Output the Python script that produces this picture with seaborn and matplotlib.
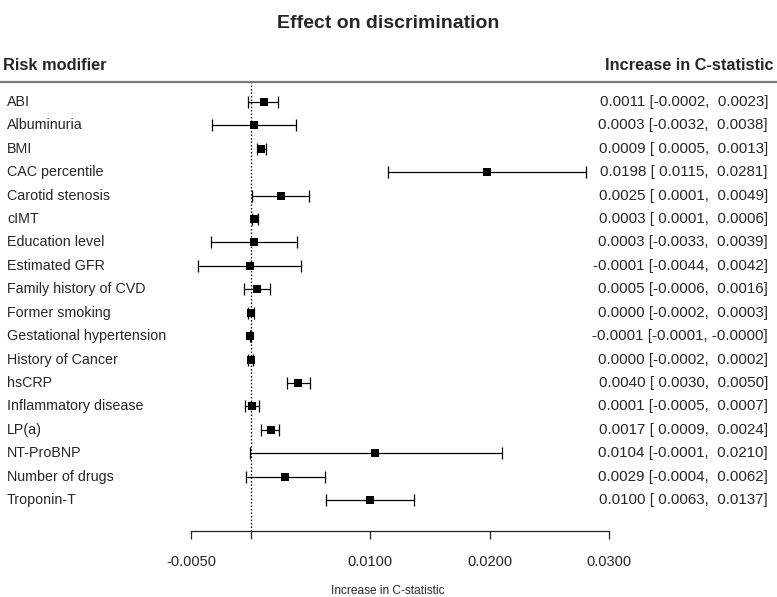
import numpy as np
import matplotlib
matplotlib.use("Agg")
import matplotlib.pyplot as plt
import matplotlib.transforms as mtransforms
from matplotlib.lines import Line2D
import seaborn as sns


modifiers = [
    "ABI", "Albuminuria", "BMI", "CAC percentile", "Carotid stenosis", "cIMT",
    "Education level", "Estimated GFR", "Family history of CVD", "Former smoking",
    "Gestational hypertension", "History of Cancer", "hsCRP", "Inflammatory disease",
    "LP(a)", "NT-ProBNP", "Number of drugs", "Troponin-T",
]
estimate = [0.0011, 0.0003, 0.0009, 0.0198, 0.0025, 0.0003, 0.0003, -0.0001, 0.0005,
            0.0000, -0.0001, 0.0000, 0.0040, 0.0001, 0.0017, 0.0104, 0.0029, 0.0100]
lower = [-0.0002, -0.0032, 0.0005, 0.0115, 0.0001, 0.0001, -0.0033, -0.0044, -0.0006,
         -0.0002, -0.0001, -0.0002, 0.0030, -0.0005, 0.0009, -0.0001, -0.0004, 0.0063]
upper = [0.0023, 0.0038, 0.0013, 0.0281, 0.0049, 0.0006, 0.0039, 0.0042, 0.0016,
         0.0003, -0.0000, 0.0002, 0.0050, 0.0007, 0.0024, 0.0210, 0.0062, 0.0137]
tick_values = [-0.005, 0.0, 0.01, 0.02, 0.03]
tick_labels = ["-0.0050", "", "0.0100", "0.0200", "0.0300"]

sns.set_style("white")
plt.rcParams["font.family"] = ["Liberation Sans", "DejaVu Sans"]

W, H = 777, 597
fig = plt.figure(figsize=(W / 100, H / 100), dpi=100)

# axes placed in pixel terms: x from -0.005 to 0.03, top at header line, bottom at spine
ax_left, ax_right, ax_top, ax_bottom = 191, 609, 82, 531
ax = fig.add_axes([ax_left / W, 1 - ax_bottom / H,
                   (ax_right - ax_left) / W, (ax_bottom - ax_top) / H])

est = np.array(estimate)
lo = np.array(lower)
hi = np.array(upper)
rows = np.arange(len(modifiers))

ax.errorbar(est, rows, xerr=[est - lo, hi - est], fmt="none", ecolor="black",
            elinewidth=0.9, capsize=4.3, capthick=0.9, zorder=2)
sns.scatterplot(x=est, y=rows, marker="s", color="black", s=28, linewidth=0,
                ax=ax, zorder=3)

ax.axvline(0, color="black", linestyle=(0, (1.2, 1.6)), linewidth=0.9, zorder=1)

ax.set_xlim(-0.005, 0.03)
ax.set_ylim(17 + 1.32, -0.85)
ax.set_xticks(tick_values)
ax.set_xticklabels(tick_labels, fontsize=10.5)
ax.set_yticks([])
ax.tick_params(axis="x", direction="out", length=6, width=0.9, color="#222222",
               pad=11, bottom=True)
ax.set_xlabel("Increase in C-statistic", fontsize=8.6, labelpad=12)
ax.xaxis.label.set_x((388 - ax_left) / (ax_right - ax_left))
sns.despine(ax=ax, left=True)
ax.spines["bottom"].set_linewidth(0.9)
ax.spines["bottom"].set_color("#222222")
ax.patch.set_alpha(0)

# row labels and estimate text
trans = mtransforms.blended_transform_factory(fig.transFigure, ax.transData)
for i, name in enumerate(modifiers):
    ax.text(7 / W, i, name, transform=trans, ha="left", va="center", fontsize=10.3)
    txt = f"{estimate[i]:.4f} [{lower[i]:7.4f}, {upper[i]:7.4f}]"
    ax.text(768 / W, i, txt, transform=trans, ha="right", va="center", fontsize=10.9)

# headers
fig.text(3 / W, 1 - 65 / H, "Risk modifier", fontsize=11.8, fontweight="bold",
         ha="left", va="center")
fig.text(774 / W, 1 - 65 / H, "Increase in C-statistic", fontsize=11.8,
         fontweight="bold", ha="right", va="center")
fig.add_artist(Line2D([0, 1], [1 - ax_top / H, 1 - ax_top / H], color="#7a7a7a",
                      linewidth=1.6, transform=fig.transFigure))

fig.text(0.5, 1 - 24 / H, "Effect on discrimination", fontsize=14,
         fontweight="bold", ha="center", va="center")

fig.savefig("out.png", dpi=100)
